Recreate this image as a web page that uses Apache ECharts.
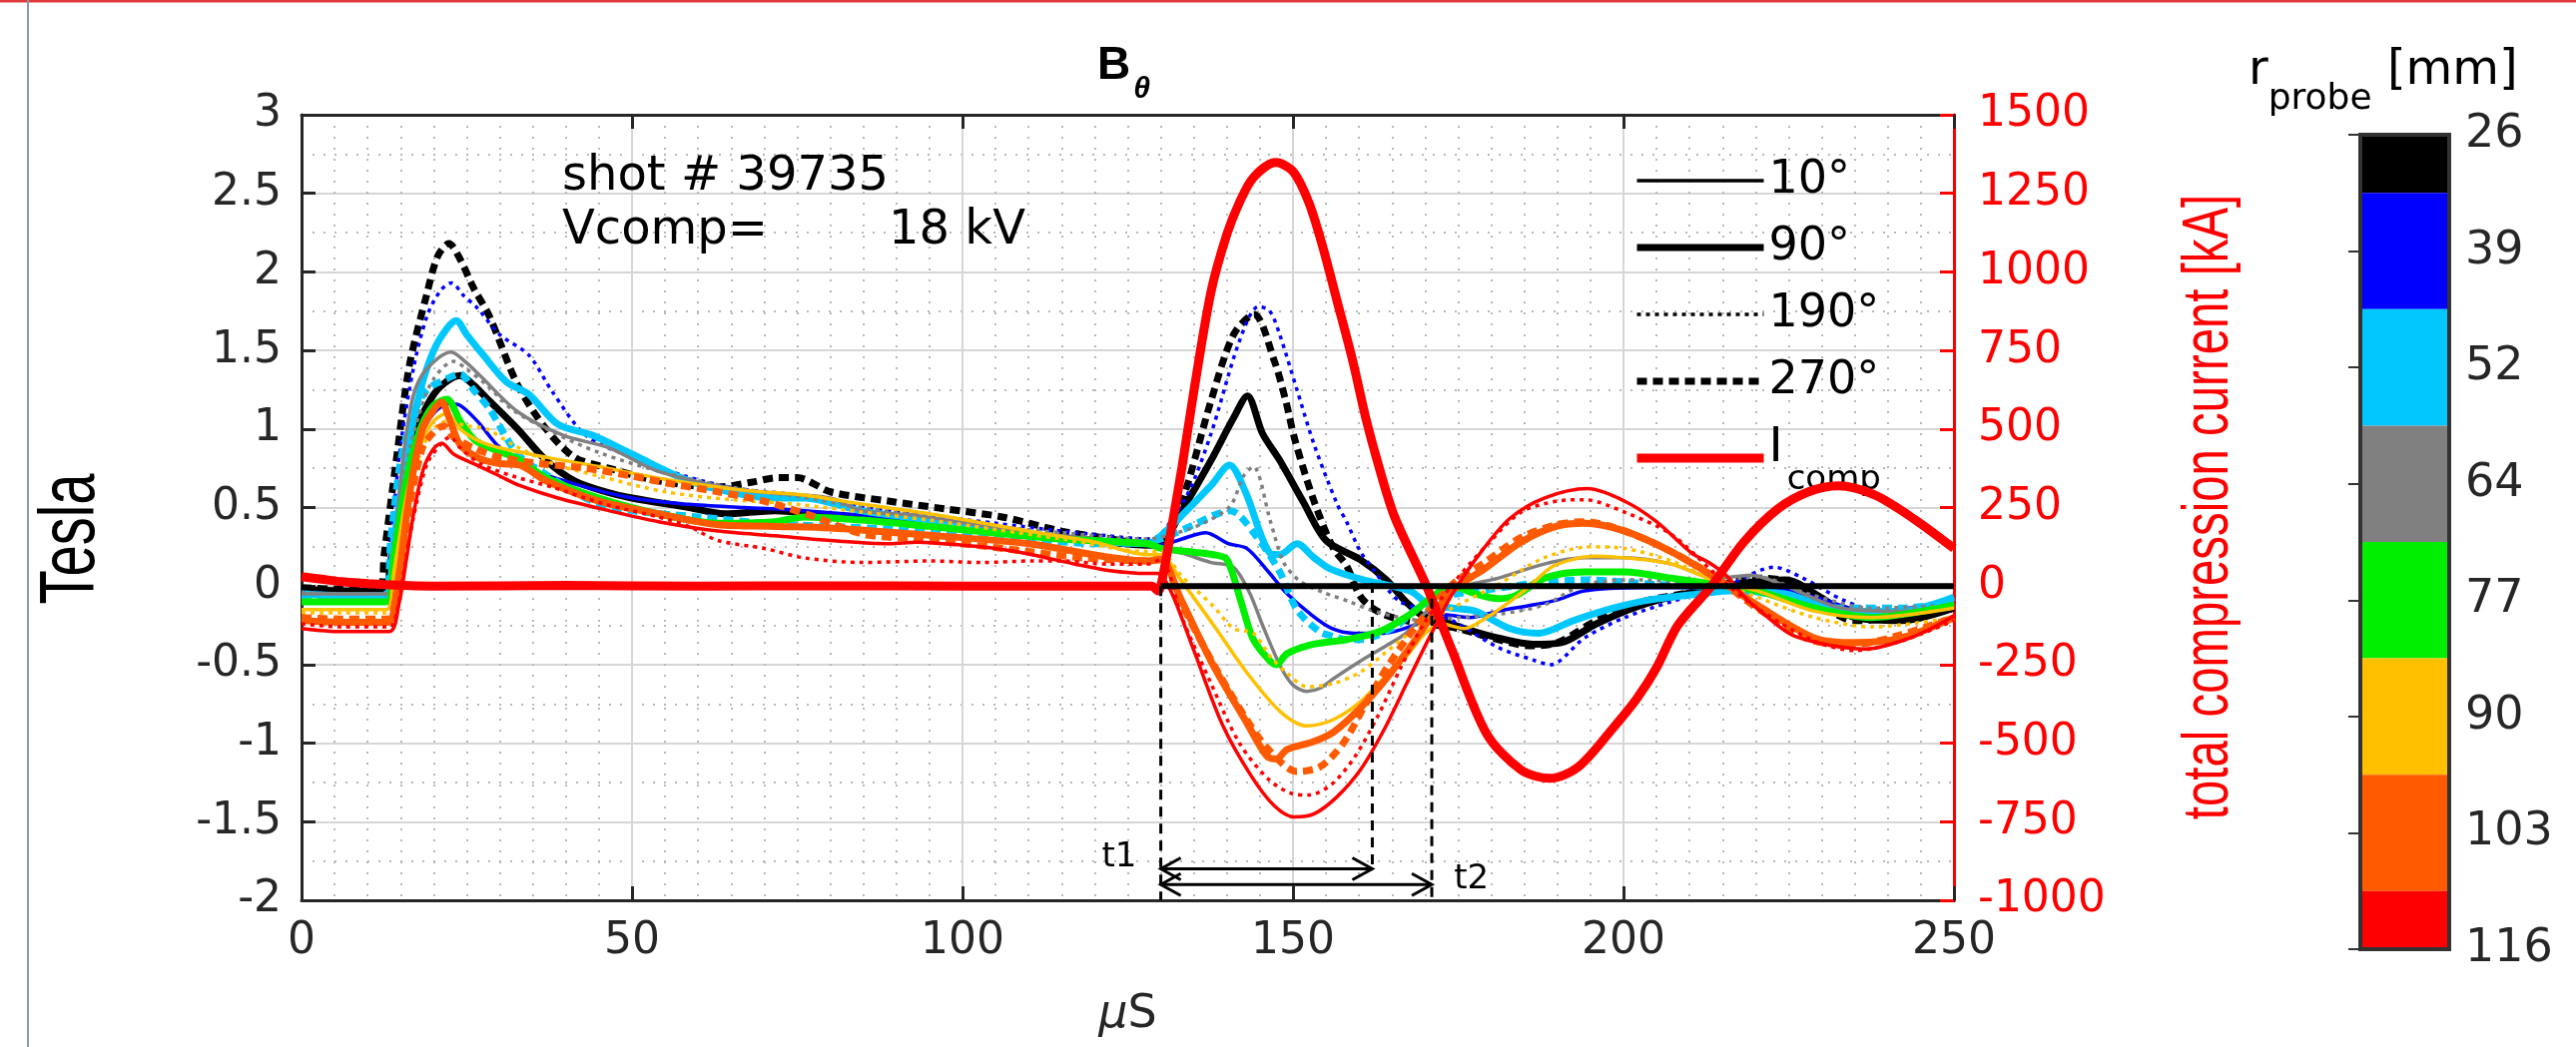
<!DOCTYPE html>
<html>
<head>
<meta charset="utf-8">
<script src="https://cdn.jsdelivr.net/npm/echarts@6/dist/echarts.min.js"></script>
<style>
  html, body { margin: 0; padding: 0; background: #fff; }
  #chart { width: 2580px; height: 1049px; }
</style>
</head>
<body>
<div id="chart"></div>
<script>
// probe radii (colorbar) and their colours
const radii = [26, 39, 52, 64, 77, 90, 103, 116];
const radiusColors = ["#000000", "#0000ff", "#00c8ff", "#808080", "#00ee00", "#ffc000", "#ff5a00", "#ff0000"];
const angleNames = ["10°", "90°", "190°", "270°"];

// B_theta [T] vs time [us], one list per probe (radius, angle)
const b26_90 = [[0,-0.02],[6,-0.03],[12.3,-0.03],[13.5,0.15],[15,0.55],[17,0.95],[19,1.15],[21,1.27],[24,1.34],[26,1.28],[28.4,1.18],[32.7,1.0],[37,0.8],[41.3,0.67],[46,0.6],[50,0.56],[58.6,0.5],[64,0.46],[71.6,0.48],[80,0.45],[90,0.42],[100,0.38],[110,0.33],[120,0.29],[128,0.26],[130,0.27],[133.2,0.48],[137.6,0.8],[141,1.07],[143.1,1.21],[145.4,0.97],[148,0.8],[151.5,0.54],[155,0.29],[160.1,0.17],[164.1,0.04],[167.1,-0.1],[169.7,-0.19],[172.4,-0.22],[176.7,-0.28],[181,-0.33],[186.3,-0.37],[190.6,-0.36],[195.9,-0.24],[202.8,-0.12],[211.5,-0.03],[220.2,0.03],[224.5,0.04],[229.8,-0.07],[235,-0.2],[242,-0.22],[250,-0.14]];
const b26_270 = [[0,-0.01],[6,-0.02],[11.8,-0.02],[12.5,0.2],[14.3,0.79],[16.3,1.4],[18.9,1.85],[20.6,2.1],[22.3,2.18],[24,2.08],[26,1.9],[28.4,1.72],[32.7,1.28],[37,1.0],[41.3,0.82],[46.5,0.75],[54,0.67],[63,0.63],[68,0.66],[72,0.69],[75,0.69],[80,0.6],[89,0.54],[97.6,0.49],[106,0.44],[115,0.35],[121,0.31],[128,0.27],[130,0.29],[133.2,0.54],[137.6,1.18],[141,1.6],[144.1,1.73],[147.2,1.43],[148.9,1.18],[150.3,0.93],[153.1,0.55],[156.1,0.24],[158.1,0.13],[160.1,-0.06],[162,-0.14],[165,-0.2],[170,-0.24],[175,-0.27],[180,-0.33],[186,-0.38],[190,-0.36],[195.9,-0.22],[202.8,-0.1],[211.5,-0.03],[220,0.05],[224.5,0.03],[229.8,-0.12],[235,-0.22],[242,-0.2],[250,-0.14]];
const b39_10 = [[0,-0.04],[6,-0.05],[12.5,-0.05],[14,0.2],[16,0.65],[18,0.95],[20,1.1],[22.3,1.16],[24,1.15],[26.6,1.05],[30,0.88],[34.4,0.75],[41.3,0.65],[50,0.56],[58.6,0.52],[67,0.5],[76,0.48],[85,0.45],[95,0.4],[105,0.36],[115,0.32],[122,0.29],[128,0.27],[130,0.26],[133.2,0.3],[136.8,0.34],[140.2,0.27],[143,0.24],[146.3,0.09],[148.9,-0.04],[152.4,-0.17],[155.9,-0.27],[159.3,-0.3],[163.7,-0.3],[168.9,-0.24],[172.4,-0.18],[176.7,-0.2],[181,-0.16],[186.3,-0.12],[189.8,-0.09],[194.1,-0.03],[202.8,-0.01],[215,-0.01],[222,-0.01],[229,-0.07],[237,-0.16],[250,-0.1]];
const b39_190 = [[0,-0.06],[6,-0.06],[12.3,-0.05],[13.5,0.3],[15,0.9],[17,1.4],[19,1.72],[21,1.88],[22.7,1.93],[24.5,1.85],[26.6,1.77],[30,1.6],[34.4,1.47],[37.9,1.24],[43,0.96],[50,0.82],[58,0.7],[66,0.62],[75,0.58],[85,0.5],[95,0.45],[105,0.4],[115,0.35],[122,0.32],[128,0.3],[130,0.33],[134.1,0.59],[137.6,0.97],[141.9,1.56],[144.8,1.78],[146.5,1.75],[148,1.6],[150.6,1.25],[153.2,0.9],[156.7,0.52],[158.1,0.41],[160.2,0.22],[162.1,0.11],[164.5,-0.03],[166.2,-0.1],[168.9,-0.14],[174.1,-0.22],[181,-0.39],[186.3,-0.47],[189,-0.5],[194.1,-0.33],[200.2,-0.2],[207.2,-0.1],[215.9,0.01],[222.8,0.12],[227.2,0.05],[233.3,-0.09],[240.2,-0.18],[250,-0.07]];
const b52_90 = [[0,-0.05],[6,-0.06],[12.5,-0.06],[14,0.3],[16,0.85],[18,1.25],[20,1.5],[22,1.64],[23.4,1.69],[25,1.6],[27.5,1.47],[31,1.3],[34.4,1.22],[38.8,1.03],[44,0.96],[50,0.84],[58.6,0.67],[67,0.58],[72,0.56],[76,0.56],[84.6,0.48],[93,0.43],[102,0.37],[110.5,0.33],[119,0.29],[128,0.27],[130,0.32],[133.2,0.45],[137.6,0.64],[140.4,0.77],[142.8,0.6],[146.5,0.21],[148,0.2],[150.6,0.27],[153.2,0.18],[155.6,0.11],[160.6,0.04],[165,0.0],[168.1,-0.04],[170.6,-0.12],[174.1,-0.14],[177.6,-0.16],[182.8,-0.27],[187.2,-0.3],[192.4,-0.22],[198.5,-0.14],[203.7,-0.09],[211.5,-0.05],[215.9,-0.03],[224.5,-0.05],[233.3,-0.16],[242,-0.16],[250,-0.07]];
const b52_270 = [[0,-0.07],[6,-0.07],[12.5,-0.07],[13.5,0.3],[15,0.8],[17,1.1],[19,1.25],[22,1.32],[24,1.35],[26,1.25],[28.4,1.13],[32.7,0.84],[37,0.71],[44,0.54],[50,0.48],[60,0.44],[70,0.4],[80,0.38],[90,0.36],[100,0.32],[110,0.3],[120,0.27],[128,0.28],[130,0.3],[135,0.39],[138,0.45],[140.5,0.48],[144.4,0.32],[148,0.09],[150.6,-0.15],[154,-0.29],[156.1,-0.32],[158,-0.34],[160.2,-0.34],[165.4,-0.26],[168.9,-0.14],[172.4,-0.07],[180,-0.02],[187,0.02],[194.1,0.04],[205,0.01],[215.9,-0.01],[224.5,-0.07],[233.3,-0.14],[242,-0.14],[250,-0.1]];
const b64_10 = [[0,-0.05],[6,-0.05],[12.8,-0.05],[13.8,0.11],[15.3,0.79],[16.9,1.21],[18.9,1.38],[22.6,1.49],[25,1.42],[27,1.34],[32.7,1.11],[39.6,0.96],[46.5,0.88],[54,0.73],[67,0.61],[80,0.56],[84.6,0.48],[93,0.45],[102,0.39],[115,0.32],[128,0.27],[130,0.24],[133.2,0.21],[137.6,0.15],[141,0.12],[143.4,-0.04],[145.4,-0.25],[148.1,-0.51],[150,-0.63],[152.1,-0.67],[154.1,-0.65],[156.1,-0.59],[160.1,-0.48],[164.1,-0.38],[167.1,-0.3],[170,-0.17],[172.4,-0.05],[176.7,0.01],[181,0.05],[188,0.14],[194.1,0.18],[200.2,0.18],[207.2,0.14],[214.1,0.05],[219.3,0.07],[224,0.01],[233,-0.14],[242,-0.16],[250,-0.12]];
const b64_190 = [[0,-0.04],[6,-0.05],[12.8,-0.05],[14,0.3],[16,0.8],[18,1.12],[20,1.32],[23,1.43],[25,1.38],[28,1.28],[32,1.12],[38,0.98],[45,0.85],[55,0.72],[65,0.63],[75,0.57],[85,0.5],[95,0.44],[105,0.38],[115,0.34],[128,0.3],[130,0.31],[135.9,0.39],[140.5,0.51],[142.5,0.7],[144,0.76],[146.6,0.41],[148.6,0.15],[151.1,0.03],[154.6,-0.04],[158.6,-0.1],[161.6,-0.15],[165,-0.19],[170,-0.22],[175,-0.2],[181,-0.18],[188,-0.12],[194.1,0.01],[202.8,0.04],[211.5,0.02],[220.2,0.06],[228,-0.05],[237.6,-0.14],[250,-0.12]];
const b77_90 = [[0,-0.1],[6,-0.1],[12.8,-0.1],[14,0.2],[16,0.7],[18,1.0],[20,1.15],[22,1.19],[24,1.05],[26.5,0.92],[32.7,0.81],[37,0.69],[45,0.56],[54,0.46],[63,0.4],[71.6,0.41],[76,0.44],[84.6,0.42],[95,0.38],[102,0.35],[115,0.3],[128,0.27],[130,0.24],[134,0.22],[138,0.2],[140,0.17],[142,-0.08],[144,-0.34],[146.6,-0.48],[147.5,-0.5],[149.1,-0.43],[153.1,-0.37],[158.1,-0.34],[163.1,-0.29],[168.1,-0.17],[170.7,-0.08],[174,0.0],[177.6,-0.05],[181,-0.08],[183.7,-0.06],[188,0.05],[194.1,0.09],[200.2,0.09],[207.2,0.05],[214.1,0.01],[220.2,-0.03],[228.9,-0.14],[237.6,-0.2],[250,-0.12]];
const b90_10 = [[0,-0.15],[6,-0.15],[12.8,-0.15],[14,0.1],[16,0.6],[18,0.9],[20,1.05],[22,1.1],[24,1.0],[27,0.92],[30,0.88],[37,0.82],[45,0.76],[55,0.68],[67,0.61],[76,0.58],[85,0.52],[95,0.46],[110,0.35],[120,0.28],[128,0.2],[130,0.2],[133,0.04],[138,-0.25],[143,-0.55],[148.1,-0.8],[152.1,-0.89],[156.1,-0.85],[160.1,-0.74],[164.1,-0.57],[167.1,-0.45],[170,-0.3],[172.4,-0.24],[175.9,-0.27],[179.3,-0.2],[182.8,-0.1],[185.8,0.0],[189.5,0.13],[195.7,0.19],[200.2,0.18],[207.2,0.14],[214.1,0.03],[220.2,-0.03],[228.9,-0.16],[237.6,-0.2],[250,-0.14]];
const b90_190 = [[0,-0.17],[6,-0.17],[12.8,-0.17],[14,0.05],[16,0.5],[18,0.85],[20,1.0],[22,1.05],[25,1.02],[28,1.0],[32,0.9],[38,0.78],[45,0.7],[55,0.6],[65,0.55],[75,0.52],[85,0.47],[95,0.42],[105,0.36],[115,0.3],[128,0.22],[130,0.22],[133,0.07],[138,-0.13],[141,-0.27],[144,-0.3],[146.6,-0.45],[149,-0.55],[152.1,-0.64],[156.1,-0.62],[160.1,-0.55],[164.1,-0.42],[168.9,-0.26],[175,-0.12],[181,0.01],[188,0.18],[195,0.25],[200.2,0.24],[207.2,0.16],[214.1,0.03],[220.2,-0.07],[228.9,-0.2],[237.6,-0.26],[250,-0.2]];
const b103_90 = [[0,-0.22],[6,-0.23],[13,-0.23],[14.3,-0.06],[16.3,0.57],[18.3,1.0],[20.3,1.14],[21.2,1.17],[22.5,1.05],[24,0.9],[27,0.81],[30,0.78],[33,0.77],[37,0.67],[45,0.54],[54,0.46],[63,0.39],[72,0.38],[80,0.37],[93,0.33],[110,0.27],[128,0.16],[130,0.17],[133,-0.08],[138,-0.51],[143,-0.87],[146,-1.08],[147.5,-1.1],[149.1,-1.04],[153.1,-0.99],[156.1,-0.93],[160.1,-0.78],[164.1,-0.59],[168.2,-0.36],[170.7,-0.21],[174.1,-0.03],[179.3,0.12],[184.5,0.28],[189.8,0.38],[194.1,0.4],[200.2,0.35],[207.2,0.22],[214.1,0.05],[220.2,-0.12],[228.9,-0.33],[235,-0.36],[242,-0.33],[250,-0.2]];
const b103_270 = [[0,-0.2],[6,-0.21],[13,-0.21],[14.3,-0.06],[16.3,0.5],[18.3,0.88],[20,0.98],[21.5,1.02],[23,0.95],[26,0.88],[30,0.82],[36,0.78],[43,0.75],[50,0.7],[56,0.65],[63,0.6],[70,0.54],[77,0.45],[85,0.33],[93,0.3],[100,0.27],[110,0.22],[118,0.18],[128,0.16],[130,0.17],[133,-0.1],[138,-0.5],[143,-0.85],[146.3,-1.04],[150.6,-1.18],[154.1,-1.15],[157.6,-1.0],[161,-0.75],[164.5,-0.5],[168.9,-0.24],[174.1,0.01],[179.3,0.16],[184.5,0.31],[189.8,0.39],[194.1,0.41],[200.2,0.35],[207.2,0.22],[214.1,0.05],[220.2,-0.14],[228.9,-0.35],[235,-0.37],[242,-0.31],[250,-0.2]];
const b116_10 = [[0,-0.27],[6,-0.29],[13.3,-0.29],[14.8,-0.1],[15.8,0.15],[16.9,0.45],[18.4,0.74],[19.9,0.87],[21.2,0.91],[23,0.84],[26,0.78],[30,0.7],[33,0.64],[38.8,0.56],[46.5,0.48],[54,0.41],[63,0.35],[71.6,0.32],[80,0.29],[89,0.27],[93,0.28],[97,0.27],[105,0.24],[110.5,0.2],[117,0.14],[122,0.1],[128,0.08],[129.5,0.08],[131.5,-0.03],[135,-0.41],[139.3,-0.88],[143.7,-1.21],[147.2,-1.4],[150.2,-1.47],[153.2,-1.45],[156.7,-1.34],[160.2,-1.17],[163.7,-0.92],[167.2,-0.62],[170.6,-0.33],[174.1,-0.05],[178.5,0.22],[182.8,0.43],[188,0.56],[194.6,0.62],[200.2,0.54],[205,0.41],[210.3,0.21],[212.9,0.15],[215.5,0.07],[218.1,-0.06],[221,-0.17],[226,-0.32],[236.6,-0.4],[244,-0.32],[250,-0.19]];
const b116_190 = [[0,-0.24],[6,-0.26],[13.3,-0.26],[14.5,-0.15],[15.5,0.1],[17,0.45],[19,0.78],[21,0.9],[22.5,0.95],[24,0.88],[27,0.78],[32,0.7],[37.9,0.63],[46,0.52],[54,0.44],[58.6,0.38],[63,0.29],[70,0.24],[76,0.18],[84.6,0.15],[95,0.16],[103,0.15],[110.5,0.16],[115,0.16],[122,0.14],[128,0.14],[130,0.17],[133.2,-0.2],[137.6,-0.62],[141.9,-1.0],[146.3,-1.23],[149.8,-1.32],[152.4,-1.33],[155.9,-1.26],[159.3,-1.09],[162.8,-0.83],[166.3,-0.52],[169.8,-0.24],[174.1,0.01],[179.3,0.26],[184.5,0.47],[189.8,0.54],[194.1,0.55],[200.2,0.47],[207.2,0.33],[214.1,0.07],[220.2,-0.14],[228.9,-0.35],[235,-0.41],[242,-0.35],[250,-0.22]];

// total compression current [kA] vs time [us]
const icompKA = [[0,30],[3,22],[6,14],[10,8],[13,4],[20,0],[40,2],[60,0],[80,1],[100,0],[120,0],[128.6,0],[129.6,-15],[130,0],[131,110],[133.2,378],[135,620],[137.6,937],[140,1120],[141.9,1221],[144,1300],[147.4,1348],[150,1320],[152.4,1221],[154.5,1080],[156.7,905],[159,720],[161,536],[163,380],[165.4,219],[170.2,0],[174.1,-206],[179.3,-470],[184.5,-585],[188.9,-612],[193.2,-575],[198.5,-450],[202,-359],[205,-260],[208.2,-126],[213.3,0],[218.2,140],[223.3,245],[228,300],[232.5,319],[238,290],[244,213],[250,120]];

// zero reference after t1
const zeroRef = [[130,0],[250,0]];

// probes: radius index, angle index, data
const probes = [
  [0, 1, b26_90], [0, 3, b26_270],
  [1, 0, b39_10], [1, 2, b39_190],
  [2, 1, b52_90], [2, 3, b52_270],
  [3, 0, b64_10], [3, 2, b64_190],
  [4, 1, b77_90],
  [5, 0, b90_10], [5, 2, b90_190],
  [6, 1, b103_90], [6, 3, b103_270],
  [7, 0, b116_10], [7, 2, b116_190]
];

// timing marks t1, end of first interval, t2
const tMarks = [130, 162, 171];

// line style for each angle
const angleStyles = [
  { width: 3.5, type: "solid" },
  { width: 7, type: "solid" },
  { width: 3.5, type: [4, 5] },
  { width: 7, type: [10, 6] }
];

const chart = echarts.init(document.getElementById("chart"));

const series = [];
probes.forEach(function (p) {
  const st = angleStyles[p[1]];
  series.push({
    type: "line",
    name: "r" + radii[p[0]] + "_" + angleNames[p[1]],
    xAxisIndex: 0, yAxisIndex: 0,
    data: p[2],
    symbol: "none",
    smooth: 0.3,
    silent: true,
    z: 2,
    lineStyle: { color: radiusColors[p[0]], width: st.width, type: st.type }
  });
});

// legend only entries (black sample lines)
angleNames.forEach(function (n, i) {
  series.push({
    type: "line", name: n, xAxisIndex: 0, yAxisIndex: 0, data: [],
    symbol: "none", itemStyle: { color: "#000" },
    lineStyle: { color: "#000", width: angleStyles[i].width, type: angleStyles[i].type }
  });
});

series.push({
  type: "line", name: "Icomp", xAxisIndex: 0, yAxisIndex: 1,
  data: icompKA, symbol: "none", smooth: 0.3, silent: true, z: 4,
  itemStyle: { color: "#ff0000" },
  lineStyle: { color: "#ff0000", width: 9 }
});

series.push({
  type: "line", name: "zero", xAxisIndex: 0, yAxisIndex: 0,
  data: zeroRef, symbol: "none", silent: true, z: 5,
  lineStyle: { color: "#000", width: 6 }
});

// colorbar
series.push({
  type: "custom", xAxisIndex: 2, yAxisIndex: 2, silent: true,
  data: radii.map(function (r, i) { return [0.5, i]; }),
  encode: { x: 0, y: 1 },
  renderItem: function (params, api) {
    const i = api.value(1);
    const lo = Math.max(i - 0.5, 0), hi = Math.min(i + 0.5, radii.length - 1);
    const a = api.coord([0, lo]), b = api.coord([1, hi]);
    return {
      type: "rect",
      shape: { x: a[0], y: Math.min(a[1], b[1]), width: b[0] - a[0], height: Math.abs(b[1] - a[1]) },
      style: { fill: radiusColors[i] }
    };
  }
});

const axisCol = "#262626";
const tickFont = "DejaVu Sans";

const option = {
  animation: false,
  backgroundColor: "#fff",
  title: {
    text: "{b|B}{t|θ}",
    left: 1094, top: 22,
    textStyle: {
      rich: {
        b: { fontSize: 46, fontWeight: "bold", fontFamily: "Liberation Sans", color: "#000" },
        t: { fontSize: 30, fontWeight: "bold", fontStyle: "italic", fontFamily: "Liberation Sans", color: "#000", padding: [48, 0, 0, 3] }
      }
    }
  },
  legend: {
    left: 1630, top: 153, orient: "vertical",
    itemWidth: 127, itemHeight: 20, itemGap: 21,
    selectedMode: false,
    itemStyle: { opacity: 0 },
    data: [
      { name: "10°", lineStyle: { width: 3.5, type: "solid", color: "#000" } },
      { name: "90°", lineStyle: { width: 7, type: "solid", color: "#000" } },
      { name: "190°", lineStyle: { width: 3.5, type: [4, 5], color: "#000" } },
      { name: "270°", lineStyle: { width: 7, type: [10, 6], color: "#000" } },
      { name: "Icomp", lineStyle: { width: 9, type: "solid", color: "#ff0000" } }
    ],
    formatter: function (n) { return n === "Icomp" ? "{i|I}{c|comp}" : n; },
    textStyle: {
      fontSize: 46, fontFamily: tickFont, color: "#000",
      rich: {
        i: { fontSize: 48, fontFamily: tickFont, color: "#000", padding: [0, 0, 18, 0] },
        c: { fontSize: 34, fontFamily: tickFont, color: "#000", padding: [44, 0, 0, 4] }
      }
    }
  },
  grid: [
    { left: 302, top: 115, width: 1655, height: 787 },
    { left: 2364, top: 135, width: 89, height: 816 }
  ],
  xAxis: [
    {
      gridIndex: 0, type: "value", min: 0, max: 250, interval: 50, position: "bottom",
      axisLine: { show: true, onZero: false, lineStyle: { color: axisCol, width: 3 } },
      axisTick: { inside: true, length: 14, lineStyle: { color: axisCol, width: 3 } },
      axisLabel: { fontSize: 44, fontFamily: tickFont, color: axisCol, margin: 20 },
      splitLine: { show: true, lineStyle: { color: "#d6d6d6", width: 2 } },
      minorTick: { show: false, splitNumber: 10 },
      minorSplitLine: { show: true, lineStyle: { color: "#b8b8b8", width: 2, type: [2, 9] } },
      name: "{m|μ}S", nameLocation: "middle", nameGap: 92,
      nameTextStyle: {
        fontSize: 46, fontFamily: tickFont, color: axisCol,
        rich: { m: { fontSize: 46, fontFamily: tickFont, fontStyle: "italic", color: axisCol } }
      }
    },
    {
      gridIndex: 0, type: "value", min: 0, max: 250, interval: 50, position: "top",
      axisLine: { show: true, onZero: false, lineStyle: { color: axisCol, width: 3 } },
      axisTick: { inside: true, length: 14, lineStyle: { color: axisCol, width: 3 } },
      axisLabel: { show: false }, splitLine: { show: false }
    },
    { gridIndex: 1, type: "value", min: 0, max: 1, show: false }
  ],
  yAxis: [
    {
      gridIndex: 0, type: "value", min: -2, max: 3, interval: 0.5, position: "left",
      axisLine: { show: true, onZero: false, lineStyle: { color: axisCol, width: 3 } },
      axisTick: { inside: true, length: 14, lineStyle: { color: axisCol, width: 3 } },
      axisLabel: { fontSize: 44, fontFamily: tickFont, color: axisCol, margin: 20 },
      splitLine: { show: true, lineStyle: { color: "#d6d6d6", width: 2 } },
      minorTick: { show: false, splitNumber: 2 },
      minorSplitLine: { show: true, lineStyle: { color: "#b8b8b8", width: 2, type: [2, 9] } }
    },
    {
      gridIndex: 0, type: "value", min: -1000, max: 1500, interval: 250, position: "right",
      axisLine: { show: true, onZero: false, lineStyle: { color: "#ff0000", width: 3 } },
      axisTick: { inside: true, length: 14, lineStyle: { color: "#ff0000", width: 3 } },
      axisLabel: { fontSize: 44, fontFamily: tickFont, color: "#ff0000", margin: 24,
        formatter: function (v) { return String(v); } },
      splitLine: { show: false }
    },
    {
      gridIndex: 1, type: "value", min: 0, max: 7, interval: 1, inverse: true, position: "right",
      axisLine: { show: false },
      axisTick: { show: true, inside: true, length: 12, lineStyle: { color: "#333", width: 2 } },
      axisLabel: { formatter: function (v) { return radii[v]; }, fontSize: 46, fontFamily: tickFont, color: axisCol, margin: 16 },
      splitLine: { show: false }
    }
  ],
  series: series
};

chart.setOption(option);

// annotations placed through the cartesian scale
function px(x, y) { return chart.convertToPixel({ xAxisIndex: 0, yAxisIndex: 0 }, [x, y]); }

function chevron(tip, dir) {
  // open arrow head pointing in dir (+1 right, -1 left)
  return {
    type: "polyline", z: 20, silent: true,
    shape: { points: [[tip[0] - dir * 20, tip[1] - 11], tip, [tip[0] - dir * 20, tip[1] + 11]] },
    style: { stroke: "#000", lineWidth: 3, fill: null }
  };
}

const g = [];
// slide border lines
g.push({ type: "line", silent: true, shape: { x1: 0, y1: 1, x2: 2580, y2: 1 }, style: { stroke: "#e03a3a", lineWidth: 3 } });
g.push({ type: "line", silent: true, shape: { x1: 28, y1: 0, x2: 28, y2: 1049 }, style: { stroke: "#8a98b0", lineWidth: 2 } });

// axis titles (condensed, as in the figure)
g.push({ type: "text", z: 20, silent: true, x: 72, y: 540, rotation: Math.PI / 2, scaleX: 0.72,
  style: { text: "Tesla", fill: "#000", font: "78px Liberation Sans", align: "center", verticalAlign: "middle" } });
g.push({ type: "text", z: 20, silent: true, x: 2213, y: 508, rotation: Math.PI / 2, scaleX: 0.74,
  style: { text: "total compression current [kA]", fill: "#ff0000", font: "64px Liberation Sans", align: "center", verticalAlign: "middle" } });

// dashed timing lines
const dashTops = [0, 0.02, -0.08];
const dashBottoms = [-2, -1.8, -2];
tMarks.forEach(function (t, i) {
  const a = px(t, dashTops[i]), b = px(t, dashBottoms[i]);
  g.push({ type: "line", z: 15, silent: true, shape: { x1: a[0], y1: a[1], x2: b[0], y2: b[1] },
    style: { stroke: "#000", lineWidth: 3, lineDash: [10, 7] } });
});

// double arrows t1 -> end of first interval, t1 -> t2
[[tMarks[0], tMarks[1], -1.8], [tMarks[0], tMarks[2], -1.9]].forEach(function (ar) {
  const a = px(ar[0], ar[2]), b = px(ar[1], ar[2]);
  g.push({ type: "line", z: 20, silent: true, shape: { x1: a[0], y1: a[1], x2: b[0], y2: b[1] }, style: { stroke: "#000", lineWidth: 3 } });
  g.push(chevron(a, -1));
  g.push(chevron(b, 1));
});

const t1p = px(123.7, -1.73), t2p = px(177, -1.87);
g.push({ type: "text", z: 20, silent: true, x: t1p[0], y: t1p[1], style: { text: "t1", fill: "#000", font: "34px DejaVu Sans", align: "center", verticalAlign: "middle" } });
g.push({ type: "text", z: 20, silent: true, x: t2p[0], y: t2p[1], style: { text: "t2", fill: "#000", font: "34px DejaVu Sans", align: "center", verticalAlign: "middle" } });

// shot info
g.push({ type: "text", z: 20, silent: true, x: 563, y: 178, style: { text: "shot # 39735", fill: "#000", font: "48px DejaVu Sans", verticalAlign: "middle" } });
g.push({ type: "text", z: 20, silent: true, x: 563, y: 232, style: { text: "Vcomp=", fill: "#000", font: "48px DejaVu Sans", verticalAlign: "middle" } });
g.push({ type: "text", z: 20, silent: true, x: 890, y: 232, style: { text: "18 kV", fill: "#000", font: "48px DejaVu Sans", verticalAlign: "middle" } });

// colorbar frame and title
const cbTop = chart.convertToPixel({ xAxisIndex: 2, yAxisIndex: 2 }, [0, 0]);
const cbBot = chart.convertToPixel({ xAxisIndex: 2, yAxisIndex: 2 }, [1, radii.length - 1]);
g.push({ type: "rect", z: 20, silent: true,
  shape: { x: cbTop[0], y: cbTop[1], width: cbBot[0] - cbTop[0], height: cbBot[1] - cbTop[1] },
  style: { fill: null, stroke: "#333", lineWidth: 4 } });
g.push({ type: "text", z: 20, silent: true, x: 2252, y: 80,
  style: {
    text: "{r|r}{p|probe}{m| [mm]}", verticalAlign: "middle",
    rich: {
      r: { font: "48px DejaVu Sans", fill: "#000", padding: [0, 0, 16, 0] },
      p: { font: "36px DejaVu Sans", fill: "#000", padding: [40, 0, 0, 0] },
      m: { font: "48px DejaVu Sans", fill: "#000", padding: [0, 0, 16, 0] }
    }
  } });

chart.setOption({ graphic: g });
</script>
</body>
</html>
